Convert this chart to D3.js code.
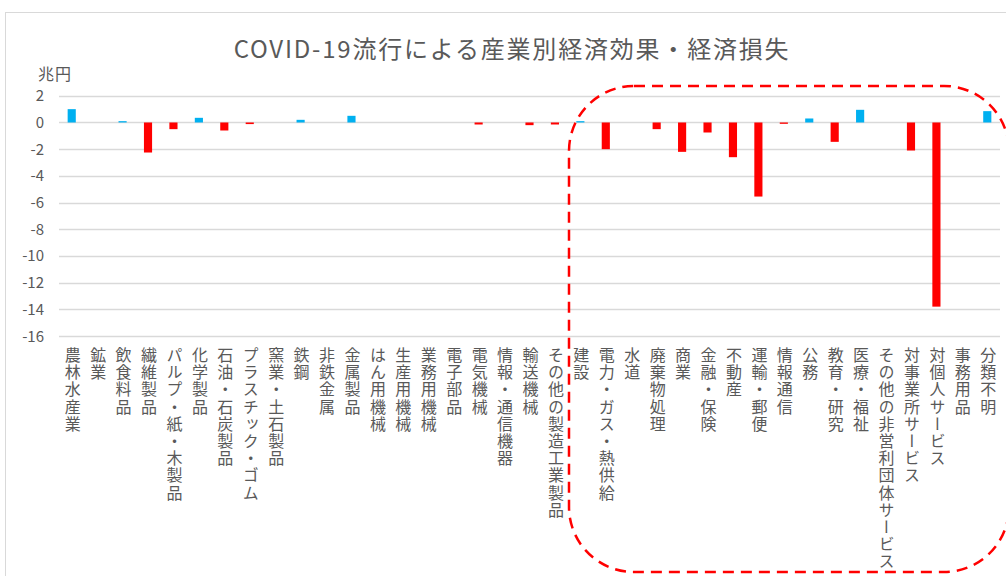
<!DOCTYPE html>
<html>
<head>
<meta charset="utf-8">
<script src="https://cdn.jsdelivr.net/npm/d3@7"></script>
<style>
  body { margin: 0; background: #fff; }
  svg { display: block; font-family: "Noto Sans CJK JP", "Noto Sans", sans-serif; }
</style>
</head>
<body>
<svg id="chart"></svg>
<script>
const categories = [
  "農林水産業", "鉱業", "飲食料品", "繊維製品", "パルプ・紙・木製品", "化学製品",
  "石油・石炭製品", "プラスチック・ゴム", "窯業・土石製品", "鉄鋼", "非鉄金属", "金属製品",
  "はん用機械", "生産用機械", "業務用機械", "電子部品", "電気機械", "情報・通信機器",
  "輸送機械", "その他の製造工業製品", "建設", "電力・ガス・熱供給", "水道", "廃棄物処理",
  "商業", "金融・保険", "不動産", "運輸・郵便", "情報通信", "公務", "教育・研究",
  "医療・福祉", "その他の非営利団体サービス", "対事業所サービス", "対個人サービス",
  "事務用品", "分類不明"
]
const values = [
  1.0, 0, 0.1, -2.25, -0.5, 0.35,
  -0.6, -0.12, 0, 0.2, 0, 0.5,
  0, 0, 0, 0, -0.15, 0,
  -0.2, -0.15, 0.1, -2.0, 0, -0.5,
  -2.2, -0.75, -2.6, -5.55, -0.1, 0.3, -1.45,
  0.95, 0, -2.1, -13.8,
  0, 0.85
]
const yTicks = [2, 0, -2, -4, -6, -8, -10, -12, -14, -16]

const width = 1006
const height = 576
const plotLeft = 59
const plotRight = 1000
const plotTop = 95.8
const plotBottom = 336

const svg = d3.select("#chart")
              .attr("width", width)
              .attr("height", height)

// chart frame
svg.append("rect")
   .attr("x", 5.5).attr("y", 12.5)
   .attr("width", 1010).attr("height", 600)
   .attr("fill", "none")
   .attr("stroke", "#d9d9d9")

const x = d3.scaleBand()
            .domain(categories)
            .range([plotLeft, plotRight])
            .paddingInner(0.68)
            .paddingOuter(0.34)

const y = d3.scaleLinear()
            .domain([-16, 2])
            .range([plotBottom, plotTop])

// gridlines
svg.append("g")
   .selectAll("line")
   .data(yTicks)
   .join("line")
   .attr("x1", plotLeft).attr("x2", plotRight)
   .attr("y1", d => Math.round(y(d)) + 0.5)
   .attr("y2", d => Math.round(y(d)) + 0.5)
   .attr("stroke", "#d9d9d9")
   .attr("stroke-width", 1.3)

// y tick labels
svg.append("g")
   .selectAll("text")
   .data(yTicks)
   .join("text")
   .attr("x", 44)
   .attr("y", d => y(d) + 5.5)
   .attr("text-anchor", "end")
   .attr("font-size", 15)
   .attr("fill", "#595959")
   .text(d => d)

svg.append("text")
   .attr("x", 38).attr("y", 80)
   .attr("font-size", 16)
   .attr("letter-spacing", 1)
   .attr("fill", "#595959")
   .text("兆円")

// title
svg.append("text")
   .attr("x", 512).attr("y", 58)
   .attr("text-anchor", "middle")
   .attr("font-size", 24)
   .attr("letter-spacing", 1.8)
   .attr("fill", "#595959")
   .text("COVID-19流行による産業別経済効果・経済損失")

// bars
svg.append("g")
   .selectAll("rect")
   .data(values.map((v, i) => ({ name: categories[i], value: v })))
   .join("rect")
   .attr("x", d => x(d.name))
   .attr("width", x.bandwidth())
   .attr("y", d => y(Math.max(0, d.value)))
   .attr("height", d => Math.abs(y(d.value) - y(0)))
   .attr("fill", d => d.value >= 0 ? "#00b0f0" : "#ff0000")

// category labels (vertical)
svg.append("g")
   .selectAll("text")
   .data(categories)
   .join("text")
   .attr("x", d => x(d) + x.bandwidth() / 2 + 1)
   .attr("y", 347)
   .style("writing-mode", "vertical-rl")
   .attr("font-size", 16)
   .attr("letter-spacing", 1.2)
   .attr("fill", "#595959")
   .text(d => d)

// highlight frame
svg.append("rect")
   .attr("x", 569).attr("y", 86)
   .attr("width", 440).attr("height", 486)
   .attr("rx", 65).attr("ry", 65)
   .attr("fill", "none")
   .attr("stroke", "#ff0000")
   .attr("stroke-width", 2.5)
   .attr("stroke-dasharray", "11 7")
</script>
</body>
</html>
